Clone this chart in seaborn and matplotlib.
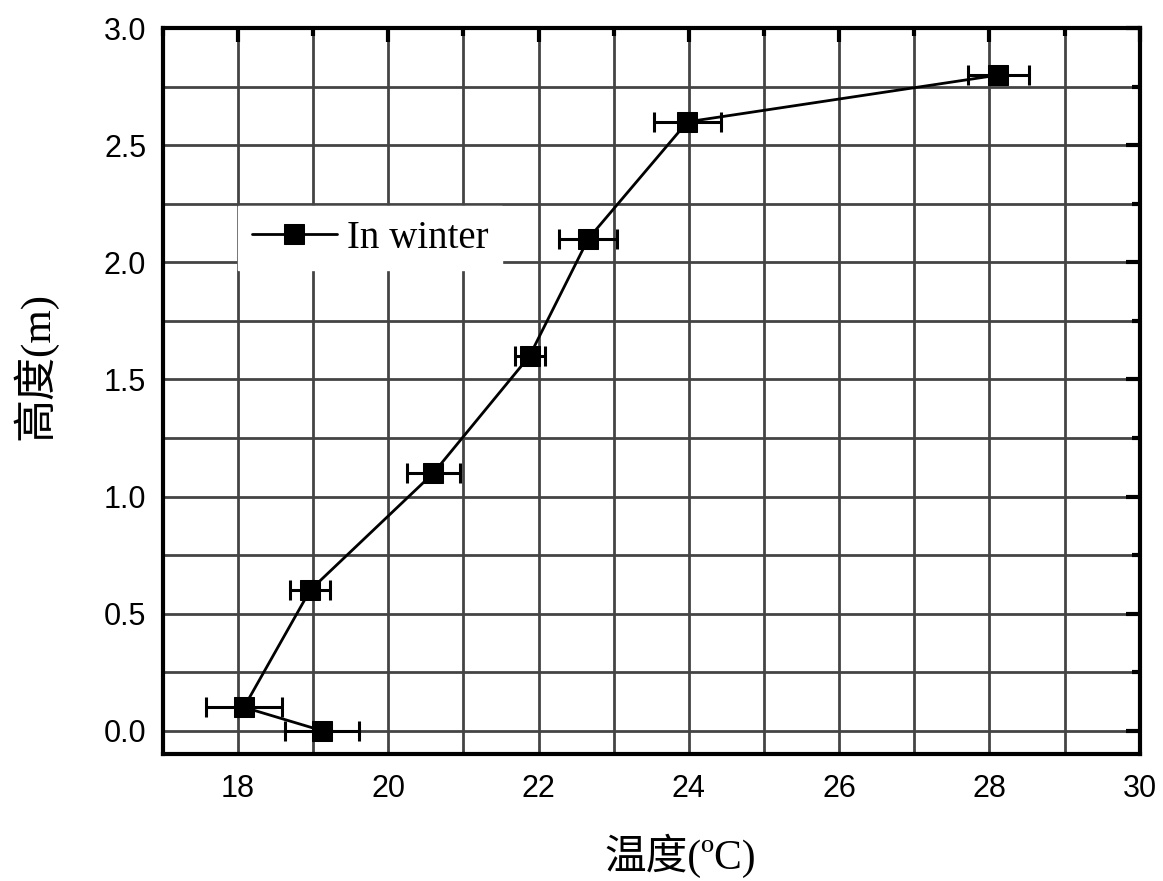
import numpy as np
import pandas as pd
import seaborn as sns
import matplotlib.pyplot as plt
from matplotlib.ticker import MultipleLocator

# datos
temperatura = [19.12, 18.08, 18.96, 20.6, 21.88, 22.66, 23.98, 28.12]
altura = [0.0, 0.1, 0.6, 1.1, 1.6, 2.1, 2.6, 2.8]
error_temp = [0.49, 0.5, 0.27, 0.35, 0.2, 0.39, 0.45, 0.4]
serie = 'In winter'

df = pd.DataFrame({'temp': temperatura, 'altura': altura, 'err': error_temp})

sns.set_style('white')
plt.rcParams['font.family'] = ['Liberation Sans', 'DejaVu Sans']
plt.rcParams['text.color'] = 'black'
plt.rcParams['axes.labelcolor'] = 'black'

fig, ax = plt.subplots(figsize=(11.63, 8.81), dpi=100)
fig.subplots_adjust(left=0.140, right=0.980, top=0.968, bottom=0.144)

ax.errorbar(df['temp'], df['altura'], xerr=df['err'], fmt='none',
            ecolor='black', elinewidth=2.2, capsize=7, capthick=2.2, zorder=3)
sns.lineplot(data=df, x='temp', y='altura', sort=False, estimator=None,
             color='black', linewidth=2, marker='s', markersize=15,
             markeredgecolor='black', label=serie, ax=ax, zorder=4)

ax.set_xlim(17, 30)
ax.set_ylim(-0.1, 3.0)
ax.xaxis.set_major_locator(MultipleLocator(2))
ax.xaxis.set_minor_locator(MultipleLocator(1))
ax.yaxis.set_major_locator(MultipleLocator(0.5))
ax.yaxis.set_minor_locator(MultipleLocator(0.25))
ax.yaxis.set_major_formatter(plt.FormatStrFormatter('%.1f'))

ax.grid(which='both', color='#444444', linewidth=2)
ax.set_axisbelow(True)
for s in ax.spines.values():
    s.set_color('black')
    s.set_linewidth(3)

ax.tick_params(which='both', direction='in', top=True, right=True,
               color='black', labelcolor='black', width=3)
ax.tick_params(which='major', length=10, labelsize=22)
ax.tick_params(axis='x', which='major', pad=14)
ax.tick_params(axis='y', which='major', pad=12)
ax.tick_params(which='minor', length=6)

ax.set_xlabel('温度(ºC)', fontsize=30, color='black',
              family=['Liberation Serif', 'Noto Sans CJK SC'])
ax.set_ylabel('高度(m)', fontsize=31, color='black',
              family=['Liberation Serif', 'Noto Sans CJK SC'])
ax.xaxis.set_label_coords(0.53, -0.11)
ax.yaxis.set_label_coords(-0.108, 0.535)

leg = ax.legend(loc='upper left', bbox_to_anchor=(0.077, 0.755),
                borderaxespad=0, prop={'family': 'Liberation Serif', 'size': 28},
                frameon=True, fancybox=False, handlelength=2.2,
                handletextpad=0.25, borderpad=0.35)
leg.get_frame().set_facecolor('white')
leg.get_frame().set_edgecolor('white')
leg.get_frame().set_alpha(1)
for t in leg.get_texts():
    t.set_color('black')

plt.savefig('out.png', dpi=100)
